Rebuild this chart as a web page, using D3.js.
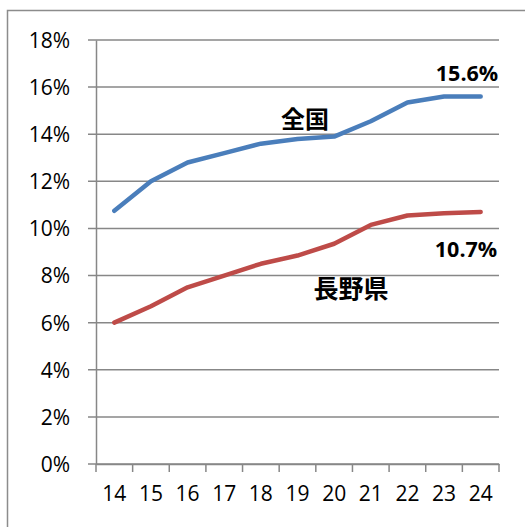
<!DOCTYPE html>
<html>
<head>
<meta charset="utf-8">
<script src="https://cdn.jsdelivr.net/npm/d3@7"></script>
<style>
  body { margin: 0; background: #fff; }
  svg text { font-family: "Open Sans", "Noto Sans", sans-serif; }
</style>
</head>
<body>
<div class="canvas"></div>
<script>
const [width, height] = [525, 527];

// data
const years = ['14', '15', '16', '17', '18', '19', '20', '21', '22', '23', '24'];
const zenkoku = [10.75, 12.0, 12.8, 13.2, 13.6, 13.8, 13.9, 14.55, 15.35, 15.6, 15.6];
const nagano = [6.0, 6.7, 7.5, 8.0, 8.5, 8.85, 9.35, 10.15, 10.55, 10.65, 10.7];
const yTicks = [0, 2, 4, 6, 8, 10, 12, 14, 16, 18];

const svg = d3.select('.canvas')
  .append('svg')
  .attr('width', width)
  .attr('height', height);

// outer chart border
svg.append('rect')
  .attr('x', 7.5).attr('y', 10.5)
  .attr('width', 540).attr('height', 540)
  .attr('fill', 'none')
  .attr('stroke', '#8c8c8c')
  .attr('stroke-width', 1.5);

const x = d3.scaleBand().domain(years).range([96, 499]);
const y = d3.scaleLinear().domain([0, 18]).range([464, 40]);

const grid = '#878787';

// horizontal gridlines
svg.selectAll('line.grid')
  .data(yTicks)
  .enter()
  .append('line')
  .attr('class', 'grid')
  .attr('x1', 88).attr('x2', 499)
  .attr('y1', d => y(d)).attr('y2', d => y(d))
  .attr('stroke', grid)
  .attr('stroke-width', 1.5);

// y axis
const yAxis = svg.append('g')
  .attr('transform', 'translate(96,0)')
  .call(d3.axisLeft(y).tickValues(yTicks).tickSize(0).tickPadding(26).tickFormat(d => d + '%'));
yAxis.select('.domain').attr('stroke', grid).attr('stroke-width', 1.5);
yAxis.selectAll('text')
  .attr('font-size', 21)
  .attr('fill', '#000')
  .attr('dy', '0.35em');

// x axis
const xAxis = svg.append('g')
  .attr('transform', 'translate(0,464)')
  .call(d3.axisBottom(x).tickSize(0).tickPadding(22));
xAxis.select('.domain').attr('stroke', grid).attr('stroke-width', 1.5);
xAxis.selectAll('text')
  .attr('font-size', 21)
  .attr('fill', '#000');

// x ticks at band edges
const edges = years.map(d => x(d)).concat([x.range()[1]]);
svg.selectAll('line.xtick')
  .data(edges)
  .enter()
  .append('line')
  .attr('class', 'xtick')
  .attr('x1', d => d).attr('x2', d => d)
  .attr('y1', 464).attr('y2', 472)
  .attr('stroke', grid)
  .attr('stroke-width', 1.5);

const lineGen = d3.line()
  .x((d, i) => x(years[i]) + x.bandwidth() / 2)
  .y(d => y(d));

svg.append('path')
  .datum(zenkoku)
  .attr('d', lineGen)
  .attr('fill', 'none')
  .attr('stroke', '#4a7ebb')
  .attr('stroke-width', 4.5)
  .attr('stroke-linecap', 'round')
  .attr('stroke-linejoin', 'round');

svg.append('path')
  .datum(nagano)
  .attr('d', lineGen)
  .attr('fill', 'none')
  .attr('stroke', '#be4b48')
  .attr('stroke-width', 4.5)
  .attr('stroke-linecap', 'round')
  .attr('stroke-linejoin', 'round');

// labels
const labels = [
  { t: '15.6%', x: 467, y: 81, size: 21.5 },
  { t: '10.7%', x: 466, y: 257, size: 21.5 },
  { t: '全国', x: 305, y: 128, size: 24 },
  { t: '長野県', x: 351, y: 298, size: 25 }
];
svg.selectAll('text.lbl')
  .data(labels)
  .enter()
  .append('text')
  .attr('class', 'lbl')
  .attr('x', d => d.x)
  .attr('y', d => d.y)
  .attr('text-anchor', 'middle')
  .attr('font-size', d => d.size)
  .attr('font-weight', 'bold')
  .style('font-family', d => /%/.test(d.t) ? '"Open Sans", sans-serif' : '"Noto Sans CJK JP", sans-serif')
  .text(d => d.t);
</script>
</body>
</html>
